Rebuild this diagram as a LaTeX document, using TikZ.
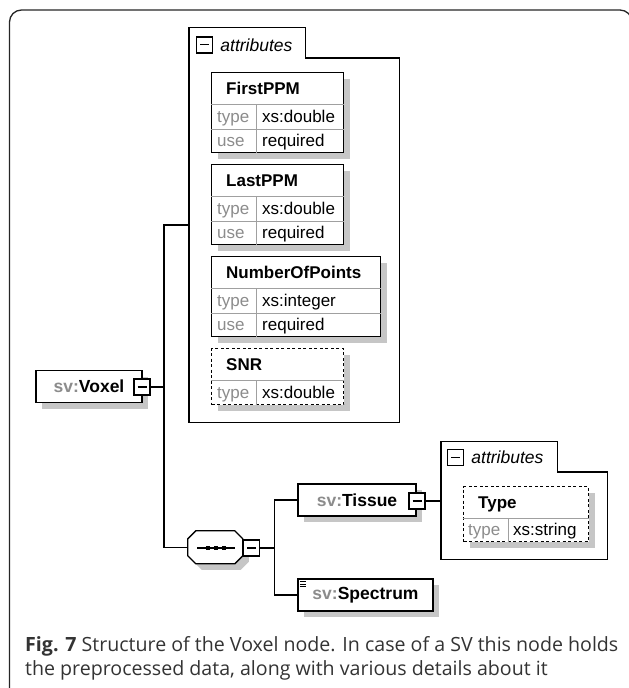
\documentclass[tikz,border=0pt]{standalone}
\usepackage{fontspec}
\setmainfont{Liberation Sans}
\newfontfamily\capfont{Open Sans}
\usepackage{tikz}
\usetikzlibrary{calc, positioning, shadows}
\definecolor{lbl}{HTML}{8C8C8C}
\definecolor{shd}{HTML}{C6C6C6}
\definecolor{rowln}{HTML}{A0A0A0}
\definecolor{captxt}{HTML}{333333}
\tikzstyle{shade} = [drop shadow={shadow xshift=6pt, shadow yshift=-6pt, fill=shd, opacity=1}]
\tikzstyle{element} = [rectangle, draw=black, line width=1.3pt, fill=white, minimum height=32pt, inner sep=0pt, font=\fontsize{17.5}{20}\selectfont\bfseries, shade]
\tikzstyle{attr} = [rectangle, draw=black, line width=1.3pt, fill=white, inner sep=0pt, anchor=north west, shade]
\tikzstyle{optattr} = [attr, dash pattern=on 3pt off 2.5pt]
\tikzstyle{group} = [rectangle, inner sep=0pt, anchor=north west]
\tikzstyle{tab} = [rectangle, inner sep=0pt, anchor=south west, minimum width=116pt, minimum height=30pt]
\tikzstyle{outline} = [draw=black, line width=1.3pt]
\tikzstyle{icon} = [rectangle, draw=black, line width=1.5pt, fill=white, minimum size=16pt, inner sep=0pt]
\tikzstyle{seq} = [rectangle, minimum width=55pt, minimum height=33pt, inner sep=0pt]
\tikzstyle{link} = [line width=1.3pt]
\tikzstyle{rowline} = [draw=rowln, line width=0.9pt]
\tikzstyle{key} = [inner sep=0pt, anchor=base west, text=lbl, font=\fontsize{17}{20}\selectfont]
\tikzstyle{val} = [key, text=black]
\tikzstyle{aname} = [key, text=black, font=\fontsize{17}{20}\selectfont\bfseries]
\tikzstyle{tablabel} = [inner sep=0pt, font=\fontsize{17.5}{20}\selectfont\itshape]
\tikzstyle{caption} = [inner sep=0pt, anchor=base west, text=captxt, font=\capfont\fontsize{19.6}{24}\selectfont]

\begin{document}
\begin{tikzpicture}[x=1pt, y=-1pt]
\useasboundingbox (0,0) rectangle (629,688);
\clip (0,0) rectangle (629,688);
% frame
\draw [link, draw=black!85, rounded corners=12pt] (9.5,700) -- (9.5,10) -- (632,10) -- (632,700);

% root element
\node (e1) [element, minimum width=106pt] at (89,386.5) {\textcolor{lbl}{sv:}Voxel};
\node (i1) [icon] at (142,387) {\rule{9pt}{1.3pt}};

% attributes of the root
\node (g1) [group, minimum width=210pt, minimum height=364pt] at (189,58) {};
\node (t1) [tab] at (g1.north west) {};
\draw [outline] (g1.south west) -- (t1.north west) -- (t1.north east) -- (t1.south east) -- (g1.north east) -- (g1.south east) -- cycle;
\node (i4) [icon] at ($(t1.west)+(15.5,2)$) {\rule{9pt}{1.3pt}};
\node (l1) [tablabel, right=7pt of i4] {attributes};

\node (a1) [attr, minimum width=132pt, minimum height=80pt] at (211,72) {};
\draw [rowline] ($(a1.north west)+(0,32)$) -- ($(a1.north east)+(0,32)$);
\draw [rowline] ($(a1.north west)+(0,57)$) -- ($(a1.north east)+(0,57)$);
\draw [rowline] ($(a1.north west)+(45,32)$) -- ($(a1.south west)+(45,0)$);
\node (n1) [aname] at ($(a1.north west)+(15,22.5)$) {FirstPPM};
\node (k1) [key] at ($(a1.north west)+(6,50.5)$) {type};
\node (v1) [val] at ($(a1.north west)+(51,50.5)$) {xs:double};
\node (k2) [key] at ($(a1.north west)+(6,74.5)$) {use};
\node (v2) [val] at ($(a1.north west)+(51,74.5)$) {required};

\node (a2) [attr, minimum width=132pt, minimum height=80pt] at (211,164) {};
\draw [rowline] ($(a2.north west)+(0,32)$) -- ($(a2.north east)+(0,32)$);
\draw [rowline] ($(a2.north west)+(0,57)$) -- ($(a2.north east)+(0,57)$);
\draw [rowline] ($(a2.north west)+(45,32)$) -- ($(a2.south west)+(45,0)$);
\node (n2) [aname] at ($(a2.north west)+(15,22.5)$) {LastPPM};
\node (k3) [key] at ($(a2.north west)+(6,50.5)$) {type};
\node (v3) [val] at ($(a2.north west)+(51,50.5)$) {xs:double};
\node (k4) [key] at ($(a2.north west)+(6,74.5)$) {use};
\node (v4) [val] at ($(a2.north west)+(51,74.5)$) {required};

\node (a3) [attr, minimum width=169pt, minimum height=80pt] at (211,256) {};
\draw [rowline] ($(a3.north west)+(0,32)$) -- ($(a3.north east)+(0,32)$);
\draw [rowline] ($(a3.north west)+(0,57)$) -- ($(a3.north east)+(0,57)$);
\draw [rowline] ($(a3.north west)+(45,32)$) -- ($(a3.south west)+(45,0)$);
\node (n3) [aname] at ($(a3.north west)+(15,22.5)$) {NumberOfPoints};
\node (k5) [key] at ($(a3.north west)+(6,50.5)$) {type};
\node (v5) [val] at ($(a3.north west)+(51,50.5)$) {xs:integer};
\node (k6) [key] at ($(a3.north west)+(6,74.5)$) {use};
\node (v6) [val] at ($(a3.north west)+(51,74.5)$) {required};

\node (a4) [optattr, minimum width=132pt, minimum height=56pt] at (211,348) {};
\draw [rowline] ($(a4.north west)+(0,32)$) -- ($(a4.north east)+(0,32)$);
\draw [rowline] ($(a4.north west)+(45,32)$) -- ($(a4.south west)+(45,0)$);
\node (n4) [aname] at ($(a4.north west)+(15,22.5)$) {SNR};
\node (k7) [key] at ($(a4.north west)+(6,50)$) {type};
\node (v7) [val] at ($(a4.north west)+(51,50)$) {xs:double};

% sequence
\node (q1) [seq] at (215.5,547.5) {};
\begin{scope}[shift={($(q1.north west)+(6,6)$)}]
\fill [shd] (8,0) -- (47,0) -- (55,8) -- (55,25) -- (47,33) -- (8,33) -- (0,25) -- (0,8) -- cycle;
\end{scope}
\begin{scope}[shift={(q1.north west)}]
\draw [outline, fill=white] (8,0) -- (47,0) -- (55,8) -- (55,25) -- (47,33) -- (8,33) -- (0,25) -- (0,8) -- cycle;
\end{scope}
\draw [line width=1.2pt] ($(q1.center)+(-18.5,0.5)$) -- ($(q1.center)+(19.5,0.5)$);
\fill ($(q1.center)+(-10,-1.5)$) rectangle +(4,4);
\fill ($(q1.center)+(-2,-1.5)$) rectangle +(4,4);
\fill ($(q1.center)+(6,-1.5)$) rectangle +(4,4);
\node (i2) [icon] at (251.5,548) {\rule{9pt}{1.3pt}};

% child elements
\node (e2) [element, minimum width=118pt] at (357,500) {\textcolor{lbl}{sv:}Tissue};
\node (i3) [icon] at (417,501) {\rule{9pt}{1.3pt}};
\node (e3) [element, minimum width=135pt] at (365.5,595) {\textcolor{lbl}{sv:}Spectrum};
\draw [line width=0.8pt] ($(e3.north west)+(2.5,3.5)$) -- +(6.5,0);
\draw [line width=0.8pt] ($(e3.north west)+(2.5,6)$) -- +(6.5,0);
\draw [line width=0.8pt] ($(e3.north west)+(2.5,8.5)$) -- +(6.5,0);

% attributes of the tissue
\node (g2) [group, minimum width=166pt, minimum height=87pt] at (441,472) {};
\node (t2) [tab] at (g2.north west) {};
\draw [outline] (g2.south west) -- (t2.north west) -- (t2.north east) -- (t2.south east) -- (g2.north east) -- (g2.south east) -- cycle;
\node (i5) [icon] at ($(t2.west)+(14.5,0.5)$) {\rule{9pt}{1.3pt}};
\node (l2) [tablabel, right=7pt of i5] {attributes};

\node (a5) [optattr, minimum width=125pt, minimum height=55pt] at (463,486) {};
\draw [rowline] ($(a5.north west)+(0,32)$) -- ($(a5.north east)+(0,32)$);
\draw [rowline] ($(a5.north west)+(45,32)$) -- ($(a5.south west)+(45,0)$);
\node (n5) [aname] at ($(a5.north west)+(15,22.5)$) {Type};
\node (k8) [key] at ($(a5.north west)+(5,49.5)$) {type};
\node (v8) [val] at ($(a5.north west)+(50,49.5)$) {xs:string};

% connectors
\coordinate (j1) at (164,225);
\draw [link] (i1.east) -| (j1) -- (j1 -| g1.west);
\draw [link] (j1) |- (q1.west);
\draw [link] (i2.east) -- ++(14.5,0) coordinate (j2);
\draw [link] (e2.west) -| (j2) |- (e3.west);
\draw [link] (i3.east) -- (i3.east -| g2.west);

% caption
\node (c1) [caption] at (25,651) {\textbf{Fig. 7} Structure of the Voxel node. In case of a SV this node holds};
\node (c2) [caption] at (25,675) {the preprocessed data, along with various details about it};
\end{tikzpicture}
\end{document}
